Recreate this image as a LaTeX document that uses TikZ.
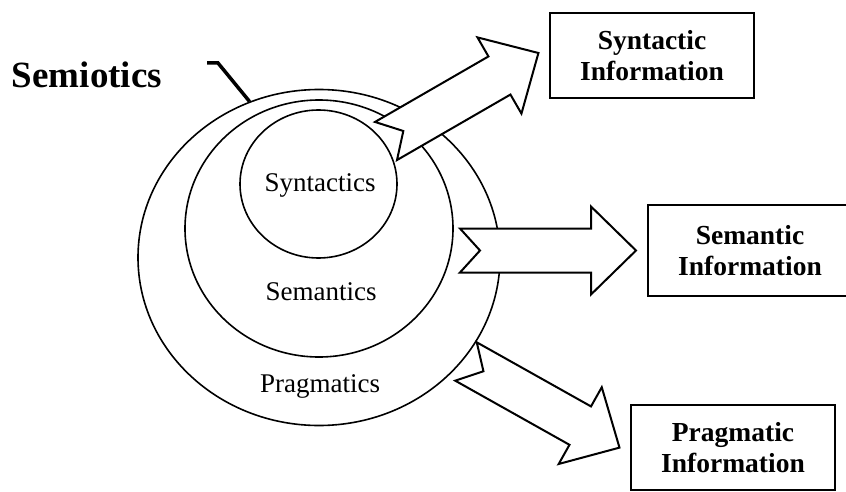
\documentclass[tikz,border=0pt]{standalone}
\usepackage{fontspec}
\setmainfont{Liberation Serif}
\usetikzlibrary{shapes.geometric}
\begin{document}
\begin{tikzpicture}[x=1pt,y=-1pt,
  ring/.style={draw, ellipse, line width=1.6pt, inner sep=0pt},
  ringlabel/.style={anchor=base, inner sep=0pt, font=\fontsize{27}{30}\selectfont},
  infobox/.style={draw, line width=2pt, minimum width=204pt, align=center,
    inner sep=0pt, font=\bfseries\fontsize{27.5}{31}\selectfont},
  fatarrow/.pic={\filldraw[fill=white, line width=2pt, line join=miter]
    (0,-22) -- (131,-22) -- (131,-44) -- (176,0) -- (131,44) -- (131,22)
    -- (0,22) -- (20,0) -- cycle;},
]
\useasboundingbox (0,0) rectangle (846,492);
\clip (0,0) rectangle (846,492);

% nested rings
\node[ring, minimum width=362pt, minimum height=336pt] (pragm) at (319,257.5) {};
\node[ring, minimum width=268pt, minimum height=257pt] (seman) at (319,228.5) {};
\node[ring, minimum width=157pt, minimum height=148pt] (syntx) at (318.5,184) {};

\node[ringlabel] (lsyn) at (320,191) {Syntactics};
\node[ringlabel] (lsem) at (321,300) {Semantics};
\node[ringlabel] (lprag) at (320,392) {Pragmatics};

% title and its pointer
\node[anchor=base, inner sep=0pt, font=\bfseries\fontsize{37}{40}\selectfont] (semio) at (87,88) {Semiotics};
\coordinate (hook) at (207,63);
\draw[line width=3.5pt] (hook) -- ++(11,0) -- (pragm.114.8);

% information boxes
\node[infobox, minimum height=85pt] (synbox) at (652,55.5) {Syntactic\\Information};
\node[infobox, minimum height=91pt] (sembox) at (750,250.5) {Semantic\\Information};
\node[infobox, minimum height=85pt] (pragbox) at (733,447.5) {Pragmatic\\Information};

% block arrows
\coordinate (t1) at (386,141);
\coordinate (t2) at (460,250.5);
\coordinate (t3) at (466,361.5);
\pic[rotate=30] at (t1) {fatarrow};
\pic at (t2) {fatarrow};
\pic[rotate=-29.3] at (t3) {fatarrow};
\end{tikzpicture}
\end{document}
